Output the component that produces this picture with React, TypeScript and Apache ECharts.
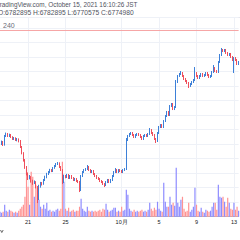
import React, { useEffect, useRef } from "react";
import * as echarts from "echarts";

// Prices in thousands of JPY (4h candles, Sep 18 00:00 JST onward)
const OPEN = [5175,5202,5230,5189,5313,5340,5313,5327,5299,5271,
5285,5258,5271,5244,5161,5078,4982,4885,4789,4733,
4747,4692,4664,4678,4609,4444,4623,4664,4651,4706,
4747,4789,4816,4844,4830,4871,4899,4926,4940,4885,
4844,4678,4761,4747,4775,4733,4761,4733,4706,4720,
4692,4678,4651,4761,4816,4844,4857,4885,4844,4816,
4830,4789,4761,4733,4720,4692,4678,4651,4637,4678,
4706,4678,4706,4761,4816,4844,4816,4844,4830,4816,
4844,4857,5258,5313,5340,5354,5327,5299,5327,5340,
5327,5299,5271,5313,5327,5313,5340,5396,5354,5327,
5271,5244,5354,5437,5464,5437,5520,5589,5644,5602,
5726,5754,5685,5713,6058,6140,6168,6182,6140,6099,
6071,6044,6002,6030,6058,6085,6182,6140,6113,6140,
6168,6140,6154,6182,6154,6127,6140,6195,6251,6209,
6195,6333,6430,6499,6485,6499,6458,6430,6444,6402,
6361,6389,6361,6306];
const CLOSE = [5202,5230,5189,5313,5340,5313,5327,5299,5271,5285,
5258,5271,5244,5161,5078,4982,4885,4789,4733,4747,
4692,4664,4678,4609,4444,4623,4664,4651,4706,4747,
4789,4816,4844,4830,4871,4899,4926,4940,4885,4844,
4678,4761,4747,4775,4733,4761,4733,4706,4720,4692,
4678,4651,4761,4816,4844,4857,4885,4844,4816,4830,
4789,4761,4733,4720,4692,4678,4651,4637,4678,4706,
4678,4706,4761,4816,4844,4816,4844,4830,4816,4844,
4857,5258,5313,5340,5354,5327,5299,5327,5340,5327,
5299,5271,5313,5327,5313,5340,5396,5354,5327,5271,
5244,5354,5437,5464,5437,5520,5589,5644,5602,5726,
5754,5685,5713,6058,6140,6168,6182,6140,6099,6071,
6044,6002,6030,6058,6085,6182,6140,6113,6140,6168,
6140,6154,6182,6154,6127,6140,6195,6251,6209,6195,
6333,6430,6499,6485,6499,6458,6430,6444,6402,6361,
6389,6361,6306,6333];
const HIGH = [5230,5250,5244,5327,5360,5354,5345,5340,5310,5299,
5295,5285,5280,5258,5175,5090,4995,4899,4810,4775,
4760,4710,4700,4690,4623,4640,4680,4678,4720,4765,
4805,4830,4860,4857,4885,4913,4940,4954,4950,4899,
4857,4780,4775,4790,4789,4775,4775,4747,4735,4733,
4706,4692,4775,4830,4857,4871,4913,4899,4857,4844,
4844,4802,4775,4747,4733,4706,4692,4664,4692,4720,
4720,4720,4775,4830,4871,4857,4857,4857,4844,4857,
4871,5285,5327,5354,5368,5368,5340,5340,5354,5354,
5340,5313,5327,5340,5340,5354,5423,5409,5368,5340,
5285,5368,5451,5478,5478,5533,5602,5658,5658,5740,
5768,5768,5726,6085,6154,6182,6209,6195,6154,6113,
6085,6058,6044,6071,6099,6264,6195,6154,6154,6182,
6182,6168,6195,6195,6168,6154,6209,6292,6264,6223,
6347,6444,6527,6513,6513,6513,6471,6458,6458,6416,
6402,6402,6375,6347];
const LOW = [5161,5189,5175,5180,5299,5299,5299,5285,5258,5258,
5244,5240,5225,5147,5060,4960,4860,4770,4706,4715,
4670,4640,4650,4590,4388,4430,4600,4630,4640,4692,
4730,4775,4800,4815,4816,4860,4885,4913,4871,4830,
4650,4664,4730,4733,4720,4720,4720,4692,4692,4678,
4664,4540,4554,4747,4802,4830,4844,4830,4802,4802,
4775,4747,4720,4706,4678,4664,4637,4609,4623,4664,
4664,4664,4692,4747,4802,4802,4802,4816,4802,4802,
4830,4844,5244,5299,5327,5313,5285,5285,5313,5313,
5285,5258,5258,5299,5299,5299,5327,5340,5313,5258,
5216,5230,5340,5423,5423,5423,5506,5575,5589,5589,
5713,5671,5671,5699,6044,6127,6154,6127,6085,6058,
6030,5975,5989,6016,6044,6071,6127,6099,6099,6127,
6127,6127,6140,6140,6113,6113,6127,6182,6195,6182,
6182,6320,6416,6471,6471,6444,6416,6416,6389,6347,
6182,6347,6292,6292];
const VOLUME = [200,160,200,480,240,200,280,240,200,160,
200,160,240,320,400,480,800,1880,1200,480,
1800,1600,800,1280,1200,680,400,320,480,320,
560,240,280,200,240,200,280,320,240,320,
2200,1400,320,240,360,200,240,280,200,240,
240,400,720,320,240,200,400,240,200,240,
200,240,200,240,280,200,320,280,520,280,
200,240,280,360,360,200,240,200,400,240,
280,1080,880,320,240,200,280,200,240,200,
240,280,200,240,200,280,560,320,240,360,
280,600,320,240,200,1360,600,400,400,800,
480,560,440,1960,560,400,680,800,320,200,
240,560,200,280,400,1160,480,240,200,360,
200,160,280,240,200,240,400,560,560,280,
1280,800,760,800,600,400,760,560,320,280,
560,280,400,240];

const TICK_INDEX = [18, 42, 78, 102, 126, 150];
const TICK_LABELS = ["21", "25", "10月", "5", "9", "13"];
const LAST_CLOSE = 6774.98;
const HEADER = "TradingView.com, October 15, 2021 16:10:26 JST";
const OHLC_TEXT = "O:6782895 H:6782895 L:6770575 C:6774980";
const INTERVAL_TEXT = "240";

const UP = "#3d80d8";
const DOWN = "#ef4f5c";
const VOL_UP = "#8e8cff";
const VOL_DOWN = "#ff9393";
const FONT = "'Liberation Sans', Arial, sans-serif";
const GRID_COLOR = "#eef1f7";

export default function App() {
  const ref = useRef<HTMLDivElement>(null);
  useEffect(() => {
    document.body.style.margin = "0";
    const chart = echarts.init(ref.current!, null, { renderer: "svg" });
    const cats = CLOSE.map((_, i) => String(i));
    const candles = CLOSE.map((c, i) => [OPEN[i], c, LOW[i], HIGH[i]]);
    const vols = VOLUME.map((v, i) => ({
      value: v,
      itemStyle: { color: CLOSE[i] >= OPEN[i] ? VOL_UP : VOL_DOWN },
    }));
    chart.setOption({
      animation: false,
      backgroundColor: "#ffffff",
      grid: { left: 0, right: 0, top: 17.3, height: 199.4 },
      xAxis: {
        type: "category",
        data: cats,
        boundaryGap: false,
        axisLine: { lineStyle: { color: "#b2b5be", width: 1 } },
        axisTick: { show: false },
        axisLabel: {
          interval: (i: number) => TICK_INDEX.includes(i),
          formatter: (v: string) => {
            const k = TICK_INDEX.indexOf(Number(v));
            return k >= 0 ? TICK_LABELS[k] : "";
          },
          fontSize: 5.5,
          color: "#131722",
          margin: 2.5,
          fontFamily: FONT,
        },
        splitLine: {
          show: true,
          interval: (i: number) => TICK_INDEX.includes(i),
          lineStyle: { color: GRID_COLOR, width: 1 },
        },
      },
      yAxis: [
        {
          type: "value",
          min: 4200,
          max: 6950,
          interval: 200,
          position: "right",
          axisLabel: { show: false },
          axisLine: { show: false },
          axisTick: { show: false },
          splitLine: { lineStyle: { color: GRID_COLOR, width: 1 } },
        },
        {
          type: "value",
          min: 0,
          max: 8000,
          show: false,
          splitLine: { show: false },
        },
      ],
      series: [
        {
          type: "bar",
          xAxisIndex: 0,
          yAxisIndex: 1,
          data: vols,
          barWidth: 1.2,
          z: 1,
          silent: true,
        },
        {
          type: "candlestick",
          xAxisIndex: 0,
          yAxisIndex: 0,
          data: candles,
          barWidth: 1.1,
          z: 3,
          silent: true,
          itemStyle: {
            color: UP,
            color0: DOWN,
            borderColor: UP,
            borderColor0: DOWN,
            borderWidth: 1,
          },
          markLine: {
            symbol: "none",
            silent: true,
            label: { show: false },
            lineStyle: { color: "#f6a6a6", width: 1, type: "solid" },
            data: [{ yAxis: LAST_CLOSE }],
          },
        },
      ],
      graphic: [
        {
          type: "text",
          x: -4,
          y: 1,
          style: { text: HEADER, fontSize: 6.4, fill: "#50535e", fontFamily: FONT, align: "left", verticalAlign: "top" },
        },
        {
          type: "text",
          x: -2,
          y: 9,
          style: { text: OHLC_TEXT, fontSize: 6.7, fill: "#50535e", fontFamily: FONT, align: "left", verticalAlign: "top" },
        },
        {
          type: "text",
          x: 3,
          y: 21.5,
          style: { text: INTERVAL_TEXT, fontSize: 7, fill: "#6a6d78", fontFamily: FONT, align: "left", verticalAlign: "top" },
        },
        {
          type: "line",
          shape: { x1: 0, y1: 17.5, x2: 240, y2: 17.5 },
          style: { stroke: "#e6e8ee", lineWidth: 1 },
        },
        {
          type: "polyline",
          shape: { points: [[0.5, 230], [1.8, 232.5], [3.2, 230]] },
          style: { stroke: "#444", lineWidth: 0.8, fill: null },
        },
      ],
    });
    return () => chart.dispose();
  }, []);
  return <div ref={ref} style={{ width: 240, height: 240 }} />;
}
